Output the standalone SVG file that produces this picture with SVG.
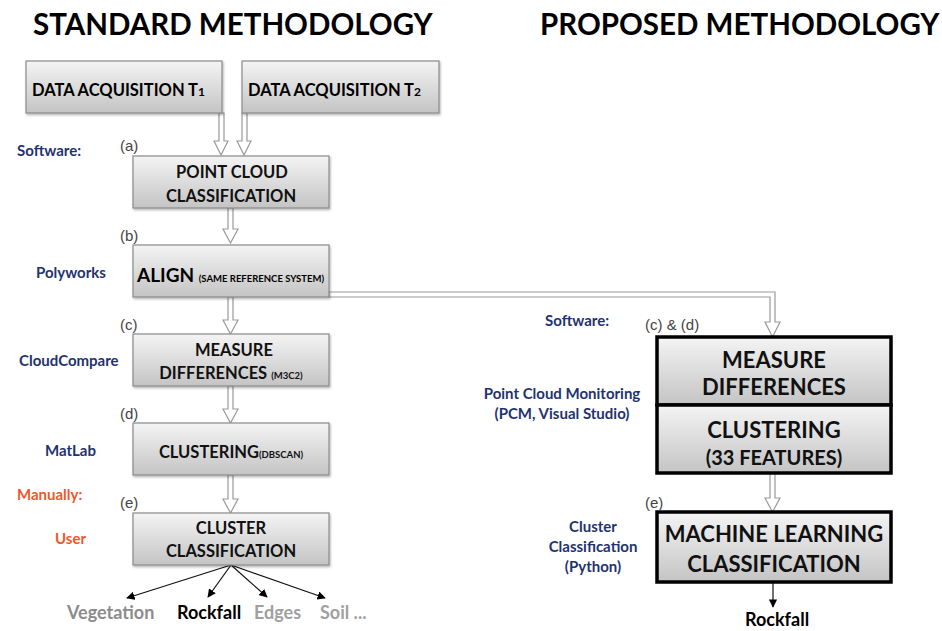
<svg xmlns="http://www.w3.org/2000/svg" width="942" height="631" viewBox="0 0 942 631">
<defs>
<linearGradient id="g" x1="0" y1="0" x2="0" y2="1">
<stop offset="0" stop-color="#f4f4f4"/>
<stop offset="1" stop-color="#c4c4c4"/>
</linearGradient>
<marker id="ah" viewBox="0 0 10 10" refX="9" refY="5" markerWidth="7" markerHeight="7" orient="auto">
<path d="M0,0 L10,5 L0,10 z" fill="#000"/>
</marker>
<filter id="sh" x="-5%" y="-5%" width="110%" height="120%">
<feDropShadow dx="1" dy="1.5" stdDeviation="1" flood-color="#000" flood-opacity="0.3"/>
</filter>
</defs>
<style>
text{font-family:Lato,"Open Sans","Liberation Sans",sans-serif;font-weight:bold}
.title{font-size:29.5px;fill:#000}
.box{fill:url(#g);stroke:#8a8a8a;stroke-width:1.2;filter:url(#sh)}
.tbox{fill:url(#g);stroke:#000;stroke-width:3.5}
.bt{font-size:16.5px;fill:#111;text-anchor:middle}
.sm{font-size:9.5px}
.big{font-size:22px;fill:#111;text-anchor:middle}
.sw{font-size:15px;fill:#1f3370}
.man{font-size:15px;fill:#f0572a}
.lt{font-family:"Liberation Sans",Arial,sans-serif;font-weight:normal;font-size:15px;fill:#444}
.hol{fill:#fff;stroke:#999;stroke-width:1.2}
.thin{stroke:#111;stroke-width:1.2;fill:none;marker-end:url(#ah)}
.out{font-size:18px}
</style>
<text class="title" x="33" y="35">STANDARD METHODOLOGY</text>
<text class="title" x="540" y="35">PROPOSED METHODOLOGY</text>

<g id="connectors">
<path class="hol" d="M219,113 V141 H214 L221,155 L228,141 H224 V113 Z"/>
<path class="hol" d="M242,113 V141 H237 L244,155 L251,141 H247 V113 Z"/>
<path class="hol" d="M228,208 V229 H223 L230.5,243 L238,229 H233 V208 Z"/>
<path class="hol" d="M228,297 V320 H223 L230.5,334 L238,320 H233 V297 Z"/>
<path class="hol" d="M228,386 V409 H223 L230.5,423 L238,409 H233 V386 Z"/>
<path class="hol" d="M228,475 V499 H223 L230.5,513 L238,499 H233 V475 Z"/>
<path class="hol" d="M329,292 H775 V322 H780 L772.5,337 L765,322 H770 V297 H329 Z"/>
<path class="hol" d="M770,473 V498 H765 L772.5,512 L780,498 H775 V473 Z"/>
<line class="thin" x1="231" y1="565" x2="127" y2="598"/>
<line class="thin" x1="231" y1="565" x2="208" y2="597"/>
<line class="thin" x1="231" y1="565" x2="267" y2="597"/>
<line class="thin" x1="231" y1="565" x2="325" y2="598"/>
<line class="thin" x1="773" y1="582" x2="773" y2="607"/>
</g>

<g id="acq1">
<rect class="box" x="26" y="61" width="196" height="52"/>
<text x="32" y="96" style="font-size:16.5px">DATA ACQUISITION T<tspan style="font-size:12px">1</tspan></text>
</g>
<g id="acq2">
<rect class="box" x="242" y="61" width="197" height="52"/>
<text x="248" y="96" style="font-size:16.5px">DATA ACQUISITION T<tspan style="font-size:12px">2</tspan></text>
</g>
<g id="pcc">
<rect class="box" x="133" y="156" width="196" height="52"/>
<text class="bt" x="232" y="178">POINT CLOUD</text>
<text class="bt" x="231" y="202">CLASSIFICATION</text>
</g>
<g id="align">
<rect class="box" x="133" y="245" width="196" height="52"/>
<text x="137" y="282" style="font-size:19px">ALIGN <tspan class="sm">(SAME REFERENCE SYSTEM)</tspan></text>
</g>
<g id="measure">
<rect class="box" x="133" y="334" width="196" height="52"/>
<text class="bt" x="234" y="356">MEASURE</text>
<text class="bt" x="231" y="379">DIFFERENCES <tspan class="sm">(M3C2)</tspan></text>
</g>
<g id="clustering">
<rect class="box" x="133" y="423" width="196" height="52"/>
<text class="bt" x="231" y="458">CLUSTERING<tspan class="sm">(DBSCAN)</tspan></text>
</g>
<g id="clusterclass">
<rect class="box" x="133" y="513" width="196" height="52"/>
<text class="bt" x="231" y="534">CLUSTER</text>
<text class="bt" x="231" y="557">CLASSIFICATION</text>
</g>

<g id="pmeasure">
<rect class="tbox" x="657" y="337" width="234" height="68"/>
<text class="big" x="774" y="368">MEASURE</text>
<text class="big" x="774" y="395">DIFFERENCES</text>
</g>
<g id="pcluster">
<rect class="tbox" x="657" y="405" width="234" height="68"/>
<text class="big" x="774" y="438">CLUSTERING</text>
<text class="big" x="774" y="465" style="font-size:20px">(33 FEATURES)</text>
</g>
<g id="ml">
<rect class="tbox" x="657" y="512" width="234" height="70"/>
<text class="big" x="774" y="542">MACHINE LEARNING</text>
<text class="big" x="774" y="572">CLASSIFICATION</text>
</g>

<g id="labels">
<text class="sw" x="17" y="156">Software:</text>
<text class="sw" x="36" y="278">Polyworks</text>
<text class="sw" x="19" y="366">CloudCompare</text>
<text class="sw" x="45" y="456">MatLab</text>
<text class="man" x="17" y="500">Manually:</text>
<text class="man" x="55" y="544">User</text>
<text class="lt" x="120" y="151">(a)</text>
<text class="lt" x="120" y="241">(b)</text>
<text class="lt" x="120" y="330">(c)</text>
<text class="lt" x="120" y="419">(d)</text>
<text class="lt" x="120" y="508">(e)</text>
<text class="lt" x="645" y="330">(c) &amp; (d)</text>
<text class="lt" x="645" y="508">(e)</text>
<text class="sw" x="545" y="326">Software:</text>
<text class="sw" x="562" y="399" text-anchor="middle">Point Cloud Monitoring</text>
<text class="sw" x="562" y="419" text-anchor="middle">(PCM, Visual Studio)</text>
<text class="sw" x="593" y="532" text-anchor="middle">Cluster</text>
<text class="sw" x="593" y="552" text-anchor="middle">Classification</text>
<text class="sw" x="593" y="572" text-anchor="middle">(Python)</text>
<text class="out" x="67" y="619" fill="#8c8c8c">Vegetation</text>
<text class="out" x="177" y="619" fill="#000">Rockfall</text>
<text class="out" x="254" y="619" fill="#a0a0a0">Edges</text>
<text class="out" x="320" y="619" fill="#a0a0a0">Soil ...</text>
<text class="out" x="745" y="626" fill="#000">Rockfall</text>
</g>
</svg>
